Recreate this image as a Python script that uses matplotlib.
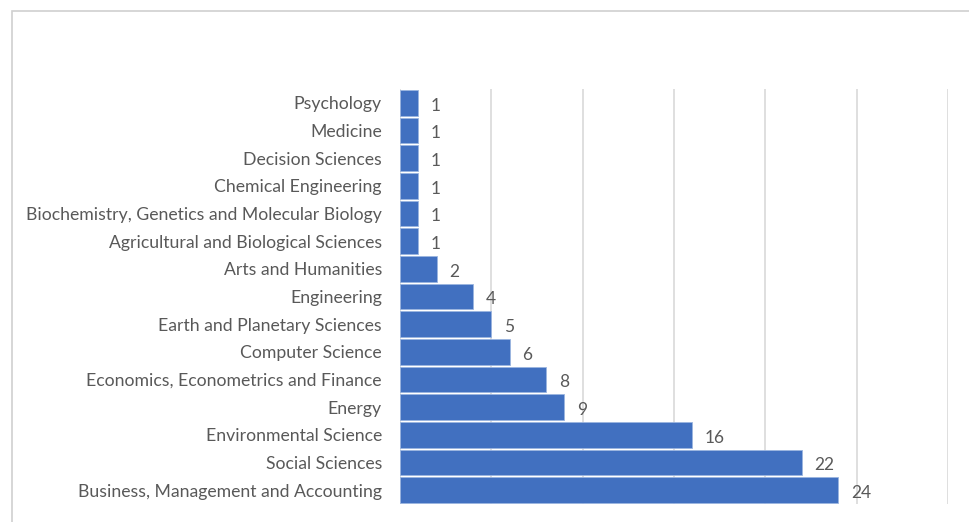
import matplotlib
matplotlib.use("Agg")
import matplotlib.pyplot as plt
from matplotlib.patches import Rectangle

categories = [
    "Business, Management and Accounting",
    "Social Sciences",
    "Environmental Science",
    "Energy",
    "Economics, Econometrics and Finance",
    "Computer Science",
    "Earth and Planetary Sciences",
    "Engineering",
    "Arts and Humanities",
    "Agricultural and Biological Sciences",
    "Biochemistry, Genetics and Molecular Biology",
    "Chemical Engineering",
    "Decision Sciences",
    "Medicine",
    "Psychology",
]
counts = [24, 22, 16, 9, 8, 6, 5, 4, 2, 1, 1, 1, 1, 1, 1]
x_ticks = [0, 5, 10, 15, 20, 25, 30]

plt.rcParams["font.family"] = ["Lato", "DejaVu Sans"]
text_color = "#595959"
bar_color = "#4170c0"

fig = plt.figure(figsize=(9.7, 5.22), dpi=100)
fig.patch.set_facecolor("white")
# chart-area frame
fig.add_artist(Rectangle((12 / 970, -0.05), 1.2, 1 - 11 / 522 + 0.05,
                         transform=fig.transFigure, fill=False,
                         edgecolor="#d0d0d0", linewidth=1.2))

ax = fig.add_axes([400 / 970, 1 - 504 / 522, 548 / 970, 415 / 522])
y = list(range(len(categories)))
ax.barh(y, counts, height=0.92, color=bar_color, edgecolor="#9bb5e0",
        linewidth=0.6, zorder=3)
for yi, v in zip(y, counts):
    ax.text(v + 0.7, yi - 0.1, str(v), va="center", ha="left",
            fontsize=12.5, color=text_color)

ax.set_xlim(0, 30)
ax.set_ylim(-0.5, len(categories) - 0.5)
ax.set_xticks(x_ticks)
ax.set_xticklabels([])
ax.tick_params(axis="x", length=0)
ax.set_yticks(y)
ax.set_yticklabels(categories, fontsize=12.7, color=text_color)
ax.tick_params(axis="y", length=0, pad=13)
ax.grid(axis="x", color="#d9d9d9", linewidth=1.2, zorder=0)
for s in ax.spines.values():
    s.set_visible(False)

fig.savefig("out.png", dpi=100, facecolor="white")
